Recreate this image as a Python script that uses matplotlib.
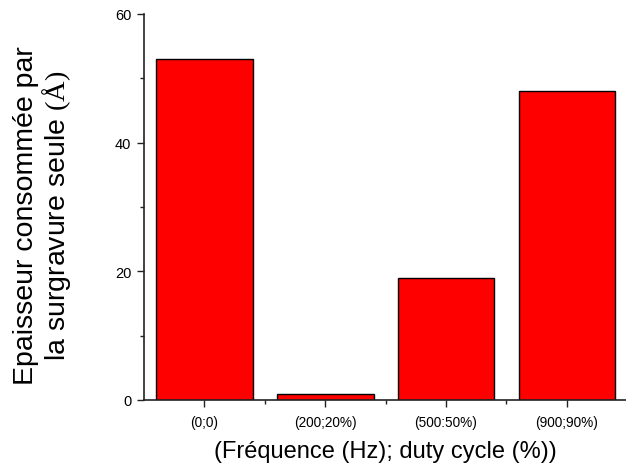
import matplotlib
matplotlib.use("Agg")
import matplotlib.pyplot as plt
from matplotlib.ticker import MultipleLocator, FixedLocator

plt.rcParams['font.family'] = ['Liberation Sans', 'DejaVu Sans']
plt.rcParams['mathtext.fontset'] = 'custom'
plt.rcParams['mathtext.rm'] = 'Liberation Serif'
plt.rcParams['mathtext.it'] = 'Liberation Serif:italic'
plt.rcParams['mathtext.bf'] = 'Liberation Serif:bold'

categories = ["(0;0)", "(200;20%)", "(500:50%)", "(900;90%)"]
thickness = [53, 1, 19, 48]

fig = plt.figure(figsize=(6.26, 4.64), dpi=100)
ax = fig.add_axes([0.23, 0.1358, 0.772, 0.832])

x = list(range(len(categories)))
ax.bar(x, thickness, width=0.8, color="#ff0000", edgecolor="black", linewidth=1.0)

ax.set_xlim(-0.5, len(categories) - 0.5)
ax.set_ylim(0, 60)

for side in ("top", "right"):
    ax.spines[side].set_visible(False)
for side in ("left", "bottom"):
    ax.spines[side].set_linewidth(1.2)
    ax.spines[side].set_color("#222222")

ax.set_xticks(x)
ax.set_xticklabels(categories, fontsize=9.8)
ax.xaxis.set_minor_locator(FixedLocator([i + 0.5 for i in x[:-1]]))
ax.yaxis.set_major_locator(MultipleLocator(20))
ax.yaxis.set_minor_locator(MultipleLocator(10))
ax.tick_params(axis="both", which="major", direction="out", length=5, width=1.0, color="#222222")
ax.tick_params(axis="both", which="minor", direction="out", length=3, width=1.0, color="#222222")
ax.tick_params(axis="y", labelsize=10.5, pad=4)
ax.tick_params(axis="x", pad=6)

ax.set_xlabel("(Fréquence (Hz); duty cycle (%))", fontsize=17, labelpad=8)
ax.set_ylabel("Epaisseur consommée par\nla surgravure seule $\\mathrm{(\\AA)}$", fontsize=20.5,
              linespacing=1.05)
ax.yaxis.set_label_coords(-0.147, 0.48)

fig.savefig("out.png", dpi=100)
